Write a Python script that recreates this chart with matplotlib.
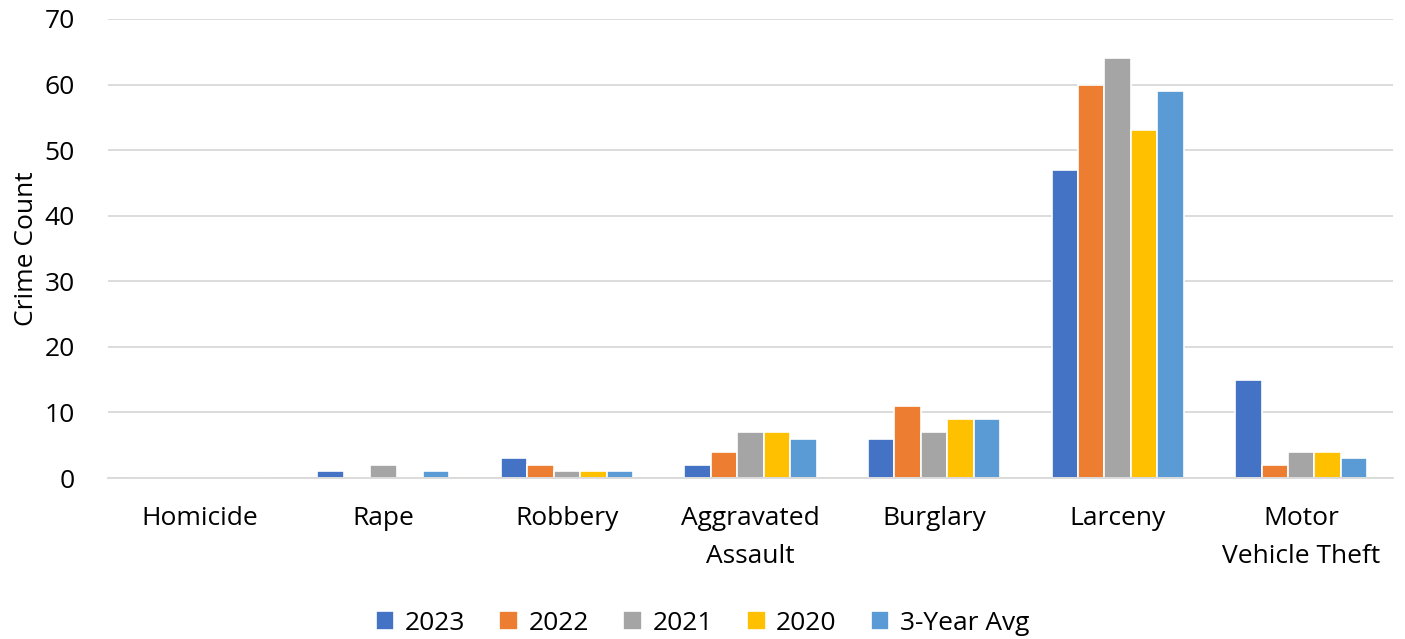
import matplotlib
matplotlib.use("Agg")
import matplotlib.pyplot as plt
import numpy as np

categories = ["Homicide", "Rape", "Robbery", "Aggravated\nAssault", "Burglary", "Larceny", "Motor\nVehicle Theft"]
series_names = ["2023", "2022", "2021", "2020", "3-Year Avg"]
v2023 = [0, 1, 3, 2, 6, 47, 15]
v2022 = [0, 0, 2, 4, 11, 60, 2]
v2021 = [0, 2, 1, 7, 7, 64, 4]
v2020 = [0, 0, 1, 7, 9, 53, 4]
vavg = [0, 1, 1, 6, 9, 59, 3]
colors = ["#4472C4", "#ED7D31", "#A5A5A5", "#FFC000", "#5B9BD5"]

plt.rcParams['font.family'] = ['Open Sans', 'DejaVu Sans']
FS = 19

fig = plt.figure(figsize=(14.05, 6.39), dpi=100)
ax = fig.add_axes([108/1405, 1-478/639, (1393-108)/1405, (478-19)/639])

x = np.arange(len(categories))
slot = 0.144
data = [v2023, v2022, v2021, v2020, vavg]
for i, (name, vals, c) in enumerate(zip(series_names, data, colors)):
    ax.bar(x + (i - 2) * slot, vals, width=slot, color=c, edgecolor="white", linewidth=1.2, label=name, zorder=3)

ax.set_xlim(-0.5, len(categories) - 0.5)
ax.set_ylim(0, 70)
ax.set_yticks(range(0, 71, 10))
ax.yaxis.grid(True, color="#D9D9D9", linewidth=1.3, zorder=0)
ax.set_axisbelow(True)
for s in ["top", "right", "left"]:
    ax.spines[s].set_visible(False)
ax.spines["bottom"].set_color("#D9D9D9")
ax.spines["bottom"].set_linewidth(1.3)
ax.spines["bottom"].set_zorder(4)
ax.tick_params(axis="both", length=0, labelsize=FS, colors="black")
ax.tick_params(axis="y", pad=24)
ax.tick_params(axis="x", pad=20)
ax.set_xticks(x)
ax.set_xticklabels(categories, linespacing=1.7)
ax.set_ylabel("Crime Count", fontsize=FS, labelpad=4)

fig.legend(loc="lower center", bbox_to_anchor=(0.5, -0.032), ncol=5, frameon=False, fontsize=FS,
           handlelength=0.7, handleheight=0.7, columnspacing=1.3, handletextpad=0.4)

fig.savefig("out.png", dpi=100)
